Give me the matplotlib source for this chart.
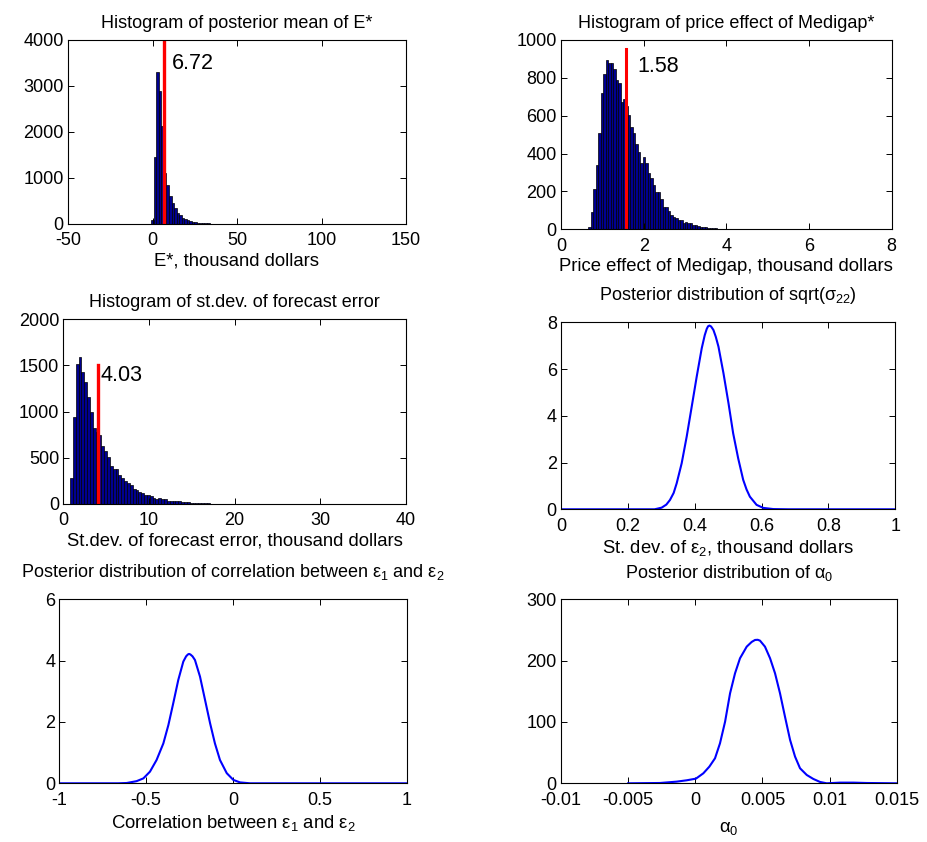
import numpy as np
import matplotlib
matplotlib.use("Agg")
import matplotlib.pyplot as plt
from matplotlib.ticker import FuncFormatter, MultipleLocator

plt.rcParams['font.family'] = ['Liberation Sans', 'DejaVu Sans']
plt.rcParams['mathtext.fontset'] = 'custom'
plt.rcParams['mathtext.rm'] = 'Liberation Sans'
plt.rcParams['mathtext.it'] = 'Liberation Sans'
plt.rcParams['mathtext.bf'] = 'Liberation Sans:bold'
plt.rcParams['mathtext.default'] = 'regular'
plt.rcParams['axes.unicode_minus'] = False

# ---- Histogram of posterior mean of E* (thousand dollars) ----
e_bin_start = -0.75
e_bin_width = 1.5
e_counts = [80, 1460, 3300, 2900, 2130, 1100, 850, 610, 450, 340, 250, 195,
            140, 110, 88, 66, 52, 40, 32, 25, 20, 16, 13, 10, 8, 7, 6, 5, 4,
            3, 3, 2, 2, 2, 1, 1, 1, 1, 1]
e_mean = 6.72

# ---- Histogram of price effect of Medigap (thousand dollars) ----
m_bin_start = 0.66
m_bin_width = 0.06
m_counts = [10, 90, 211, 338, 511, 722, 819, 894, 880, 880, 847, 789, 771, 674,
            687, 650, 604, 542, 507, 451, 410, 352, 384, 352, 296, 269, 234,
            199, 199, 158, 116, 116, 99, 76, 67, 58, 49, 49, 35, 39, 32, 32,
            21, 21, 18, 14, 11, 11, 7, 8, 6, 5, 4, 4, 3, 3, 2, 2, 2, 1, 1, 1,
            1, 1]
m_mean = 1.58

# ---- Histogram of st.dev. of forecast error (thousand dollars) ----
s_bin_start = 0.78
s_bin_width = 0.333
s_counts = [278, 946, 1513, 1596, 1433, 1325, 1155, 1000, 819, 780, 750, 630,
            570, 510, 410, 380, 380, 310, 280, 250, 230, 210, 160, 150, 130,
            120, 95, 95, 90, 60, 55, 60, 55, 55, 35, 30, 35, 30, 30, 25, 25,
            20, 12, 15, 10, 10, 8, 8, 6, 5, 5, 4, 4, 3, 3, 3, 2, 2, 2, 2, 1,
            1, 1, 1, 1, 1, 1, 1, 1]
s_mean = 4.03

# ---- Posterior density of sqrt(sigma_22) ----
sig_x = [0.0, 0.28, 0.301, 0.315, 0.326, 0.337, 0.346, 0.361, 0.376, 0.391,
         0.406, 0.421, 0.430, 0.436, 0.440, 0.444, 0.449, 0.456, 0.463,
         0.471, 0.486, 0.501, 0.515, 0.530, 0.545, 0.555, 0.565, 0.585,
         0.605, 0.635, 0.68, 1.0]
sig_y = [0.0, 0.0, 0.07, 0.20, 0.40, 0.70, 1.11, 1.97, 3.11, 4.39, 5.68,
         6.89, 7.45, 7.72, 7.83, 7.86, 7.82, 7.67, 7.38, 6.96, 5.82, 4.54,
         3.25, 2.18, 1.26, 0.85, 0.54, 0.19, 0.06, 0.01, 0.0, 0.0]

# ---- Posterior density of correlation between eps1 and eps2 ----
rho_x = [-1.0, -0.66, -0.612, -0.555, -0.516, -0.478, -0.440, -0.401, -0.372,
         -0.344, -0.315, -0.286, -0.270, -0.260, -0.253, -0.245, -0.233,
         -0.219, -0.190, -0.161, -0.132, -0.104, -0.075, -0.036, 0.002,
         0.040, 0.098, 1.0]
rho_y = [0.0, 0.0, 0.01, 0.07, 0.16, 0.38, 0.76, 1.30, 1.90, 2.61, 3.37, 3.97,
         4.14, 4.20, 4.22, 4.20, 4.14, 4.02, 3.48, 2.72, 1.96, 1.30, 0.76,
         0.33, 0.11, 0.03, 0.0, 0.0]

# ---- Posterior density of alpha_0 ----
a_x = [-0.005, -0.00263, -0.00139, -0.00064, 0.00005, 0.0006, 0.00105,
       0.00147, 0.00184, 0.00222, 0.00259, 0.00296, 0.00333, 0.00383,
       0.00420, 0.00445, 0.00465, 0.00482, 0.00519, 0.00557, 0.00594,
       0.00631, 0.00668, 0.00706, 0.00743, 0.00780, 0.00830, 0.00879,
       0.00929, 0.00979, 0.01078, 0.01177, 0.01277, 0.015]
a_y = [0.0, 0.5, 2.7, 4.9, 7.6, 16.3, 27.2, 40.8, 65.2, 100.5, 146.7, 179.3,
       203.8, 222.8, 230.5, 233.7, 234.0, 232.6, 222.8, 203.8, 179.3, 146.7,
       108.7, 70.7, 43.5, 24.5, 13.6, 7.1, 2.2, 0.0, 1.1, 1.1, 0.5, 0.0]

NAVY = (0.0, 0.0, 0.56)
TICK_FS = 13
TITLE_FS = 13
LABEL_FS = 13.3
VALUE_FS = 15.5

fig = plt.figure(figsize=(9.27, 8.42), dpi=100)

W, H = 927.0, 842.0


def add_axes(left, top, right, bottom):
    return fig.add_axes([left / W, 1 - bottom / H, (right - left) / W,
                         (bottom - top) / H])


fmt = FuncFormatter(lambda v, pos: f"{v:g}")


def style(ax, xlim, xstep, ylim, ystep):
    ax.set_xlim(*xlim)
    ax.set_ylim(*ylim)
    ax.xaxis.set_major_locator(MultipleLocator(xstep))
    ax.yaxis.set_major_locator(MultipleLocator(ystep))
    ax.xaxis.set_major_formatter(fmt)
    ax.yaxis.set_major_formatter(fmt)
    ax.tick_params(direction='in', top=True, right=True, length=4,
                   width=0.7, labelsize=TICK_FS)
    ax.tick_params(axis='x', pad=6)
    ax.tick_params(axis='y', pad=3)
    for sp in ax.spines.values():
        sp.set_linewidth(0.8)


def histogram(ax, start, width, counts):
    lefts = start + width * np.arange(len(counts))
    ax.bar(lefts, counts, width=width, align='edge', color=NAVY,
           edgecolor='black', linewidth=0.5)


def titles(ax, title, xlabel, title_pad=9, label_pad=2.5):
    ax.set_title(title, fontsize=TITLE_FS, pad=title_pad)
    ax.set_xlabel(xlabel, fontsize=LABEL_FS, labelpad=label_pad)


# Top left
ax1 = add_axes(68, 40, 406, 224)
histogram(ax1, e_bin_start, e_bin_width, e_counts)
ax1.plot([e_mean, e_mean], [0, 4000], color='red', lw=2.4)
ax1.text(11.4, 3480, f"{e_mean:.2f}", fontsize=VALUE_FS, va='center')
style(ax1, (-50, 150), 50, (0, 4000), 1000)
titles(ax1, "Histogram of posterior mean of E*", "E*, thousand dollars")

# Top right
ax2 = add_axes(561, 40, 891.7, 229.3)
histogram(ax2, m_bin_start, m_bin_width, m_counts)
ax2.plot([m_mean, m_mean], [0, 950], color='red', lw=2.2)
ax2.text(1.855, 860, f"{m_mean:.2f}", fontsize=VALUE_FS, va='center')
style(ax2, (0, 8), 2, (0, 1000), 200)
titles(ax2, "Histogram of price effect of Medigap*",
       "Price effect of Medigap, thousand dollars")

# Middle left
ax3 = add_axes(63.3, 319.3, 405.7, 504)
histogram(ax3, s_bin_start, s_bin_width, s_counts)
ax3.plot([s_mean, s_mean], [0, 1500], color='red', lw=2.4)
ax3.text(4.29, 1390, f"{s_mean:.2f}", fontsize=VALUE_FS, va='center')
style(ax3, (0, 40), 10, (0, 2000), 500)
titles(ax3, "Histogram of st.dev. of forecast error",
       "St.dev. of forecast error, thousand dollars")

# Middle right
ax4 = add_axes(561, 322.3, 895.3, 509.3)
ax4.plot(sig_x, sig_y, color='blue', lw=1.5)
style(ax4, (0, 1), 0.2, (0, 8), 2)
titles(ax4, r"Posterior distribution of sqrt($\sigma_{22}$)",
       r"St. dev. of $\varepsilon_2$, thousand dollars", title_pad=16)

# Bottom left
ax5 = add_axes(59.3, 599.3, 406.7, 783.3)
ax5.plot(rho_x, rho_y, color='blue', lw=1.5)
style(ax5, (-1, 1), 0.5, (0, 6), 2)
titles(ax5, r"Posterior distribution of correlation between "
            r"$\varepsilon_1$ and $\varepsilon_2$",
       r"Correlation between $\varepsilon_1$ and $\varepsilon_2$",
       title_pad=16, label_pad=3)

# Bottom right
ax6 = add_axes(561, 599.3, 896.7, 783.3)
ax6.plot(a_x, a_y, color='blue', lw=1.5)
style(ax6, (-0.01, 0.015), 0.005, (0, 300), 100)
titles(ax6, r"Posterior distribution of $\alpha_0$", r"$\alpha_0$",
       title_pad=15, label_pad=8)

fig.savefig("out.png", dpi=100)
